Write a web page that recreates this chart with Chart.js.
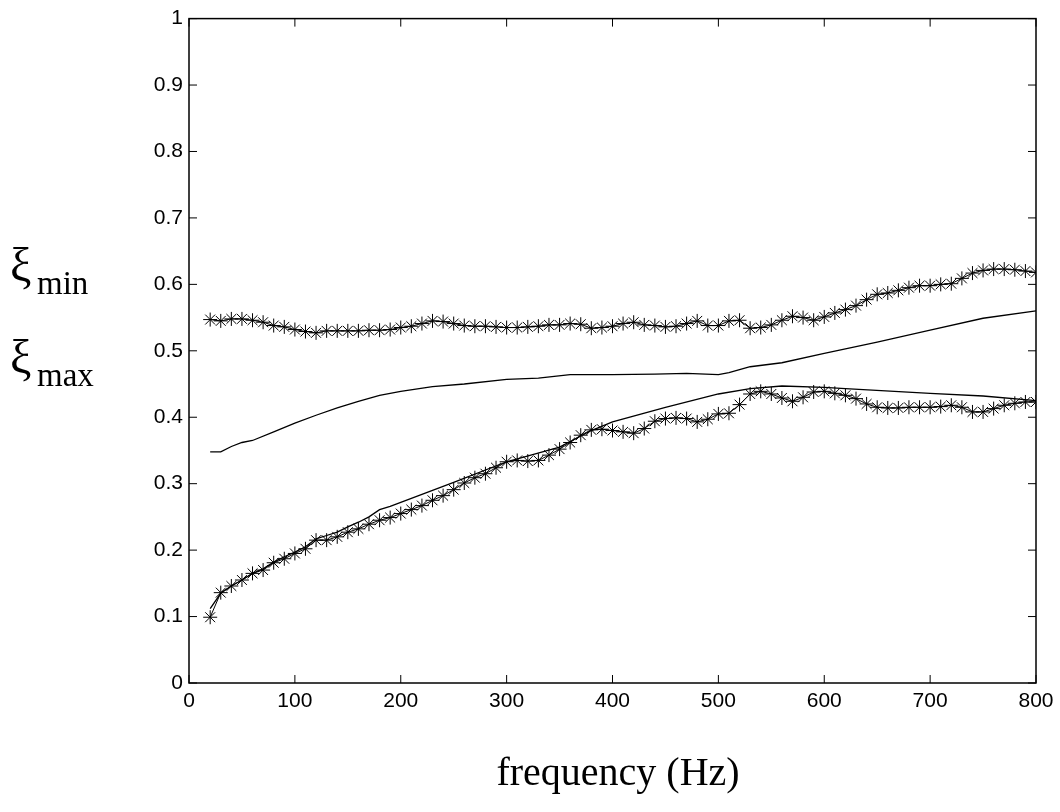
<!DOCTYPE html>
<html>
<head>
<meta charset="utf-8">
<script src="https://cdn.jsdelivr.net/npm/chart.js@4.4.1/dist/chart.umd.min.js"></script>
<style>
  html, body { margin: 0; padding: 0; background: #fff; }
  #wrap { width: 1060px; height: 812px; }
</style>
</head>
<body>
<div id="wrap"><canvas id="chart"></canvas></div>
<script>
// frequencies of the asterisk series (Hz)
const freqStars = [20, 30, 40, 50, 60, 70, 80, 90, 100, 110, 120, 130, 140, 150, 160, 170, 180, 190, 200,
  210, 220, 230, 240, 250, 260, 270, 280, 290, 300, 310, 320, 330, 340, 350, 360, 370, 380, 390, 400,
  410, 420, 430, 440, 450, 460, 470, 480, 490, 500, 510, 520, 530, 540, 550, 560, 570, 580, 590, 600,
  610, 620, 630, 640, 650, 660, 670, 680, 690, 700, 710, 720, 730, 740, 750, 760, 770, 780, 790, 800];

const upperStars = [0.547, 0.545, 0.548, 0.548, 0.546, 0.543, 0.538, 0.536, 0.532, 0.529, 0.527, 0.530, 0.530, 0.530, 0.530, 0.531, 0.531, 0.532, 0.535,
  0.537, 0.541, 0.545, 0.544, 0.541, 0.538, 0.537, 0.537, 0.536, 0.535, 0.535, 0.536, 0.537, 0.539, 0.539, 0.541, 0.540, 0.534, 0.535, 0.537,
  0.541, 0.543, 0.539, 0.538, 0.536, 0.537, 0.541, 0.545, 0.538, 0.538, 0.545, 0.546, 0.534, 0.535, 0.539, 0.546, 0.552, 0.550, 0.546, 0.551,
  0.557, 0.562, 0.568, 0.577, 0.585, 0.587, 0.591, 0.595, 0.598, 0.598, 0.600, 0.601, 0.609, 0.617, 0.621, 0.623, 0.623, 0.622, 0.620, 0.618];

const lowerStars = [0.099, 0.136, 0.146, 0.155, 0.165, 0.170, 0.181, 0.187, 0.195, 0.202, 0.215, 0.215, 0.220, 0.227, 0.232, 0.239, 0.245, 0.249, 0.255,
  0.261, 0.267, 0.275, 0.282, 0.291, 0.301, 0.309, 0.315, 0.324, 0.333, 0.335, 0.334, 0.335, 0.343, 0.352, 0.362, 0.373, 0.381, 0.382, 0.380,
  0.378, 0.376, 0.383, 0.394, 0.398, 0.399, 0.398, 0.393, 0.397, 0.405, 0.406, 0.419, 0.435, 0.439, 0.435, 0.429, 0.424, 0.430, 0.438, 0.439,
  0.436, 0.433, 0.428, 0.420, 0.415, 0.414, 0.414, 0.415, 0.415, 0.415, 0.416, 0.418, 0.415, 0.408, 0.408, 0.413, 0.418, 0.421, 0.423, 0.423];

// solid curves, read at the frequencies listed with them
const freqMid = [20, 30, 40, 50, 60, 80, 100, 120, 140, 160, 180, 200, 230, 260, 300, 330, 360, 400, 440, 470, 500, 510, 530, 560, 600, 650, 700, 750, 800];
const midLine = [0.348, 0.348, 0.356, 0.362, 0.365, 0.378, 0.391, 0.403, 0.414, 0.424, 0.433, 0.439, 0.446, 0.450, 0.457, 0.459, 0.464, 0.464, 0.465, 0.466, 0.464, 0.467, 0.476, 0.482, 0.496, 0.513, 0.531, 0.549, 0.560];

const freqLow = [20, 30, 40, 50, 60, 70, 80, 90, 100, 110, 120, 130, 140, 150, 160, 170, 180, 190, 200, 250, 300, 350, 380, 400, 450, 500, 530, 560, 600, 620, 700, 750, 800];
const lowLine = [0.112, 0.135, 0.146, 0.155, 0.165, 0.172, 0.182, 0.190, 0.197, 0.205, 0.217, 0.222, 0.227, 0.235, 0.242, 0.250, 0.261, 0.266, 0.272, 0.302, 0.333, 0.355, 0.380, 0.393, 0.415, 0.435, 0.443, 0.447, 0.445, 0.443, 0.436, 0.432, 0.425];

const xTicks = [0, 100, 200, 300, 400, 500, 600, 700, 800];
const yTicks = [0, 0.1, 0.2, 0.3, 0.4, 0.5, 0.6, 0.7, 0.8, 0.9, 1];

const pairs = (xs, ys) => xs.map((x, i) => ({ x: x, y: ys[i] }));

// box round the plot, inward ticks, and the serif axis labels
const framePlugin = {
  id: 'frame',
  afterDraw(chart) {
    const ctx = chart.ctx;
    const a = chart.chartArea;
    const xs = chart.scales.x;
    const ys = chart.scales.y;
    const tl = 8;
    ctx.save();
    ctx.strokeStyle = '#000';
    ctx.lineWidth = 1.5;
    ctx.strokeRect(a.left, a.top, a.right - a.left, a.bottom - a.top);
    ctx.lineWidth = 1;
    ctx.beginPath();
    xTicks.forEach(v => {
      const px = xs.getPixelForValue(v);
      ctx.moveTo(px, a.bottom); ctx.lineTo(px, a.bottom - tl);
      ctx.moveTo(px, a.top); ctx.lineTo(px, a.top + tl);
    });
    yTicks.forEach(v => {
      const py = ys.getPixelForValue(v);
      ctx.moveTo(a.left, py); ctx.lineTo(a.left + tl, py);
      ctx.moveTo(a.right, py); ctx.lineTo(a.right - tl, py);
    });
    ctx.stroke();

    ctx.fillStyle = '#000';
    ctx.textBaseline = 'alphabetic';
    ctx.textAlign = 'left';
    ctx.font = '48px "Liberation Serif"';
    ctx.fillText('ξ', 10, 281);
    ctx.fillText('ξ', 10, 373);
    ctx.font = '33px "Liberation Serif"';
    ctx.fillText('min', 37, 294);
    ctx.fillText('max', 37, 386);

    ctx.textAlign = 'center';
    ctx.font = '40px "Liberation Serif"';
    ctx.fillText('frequency (Hz)', 618, 785);
    ctx.restore();
  }
};

const ctx = document.getElementById('chart').getContext('2d');
new Chart(ctx, {
  type: 'scatter',
  data: {
    datasets: [
      {
        data: pairs(freqStars, upperStars),
        showLine: true,
        borderColor: '#000',
        borderWidth: 1,
        pointStyle: 'star',
        pointRadius: 7,
        pointBorderColor: '#000',
        pointBorderWidth: 1,
      },
      {
        data: pairs(freqStars, lowerStars),
        showLine: true,
        borderColor: '#000',
        borderWidth: 1,
        pointStyle: 'star',
        pointRadius: 7,
        pointBorderColor: '#000',
        pointBorderWidth: 1,
      },
      {
        data: pairs(freqMid, midLine),
        showLine: true,
        borderColor: '#000',
        borderWidth: 1.3,
        pointRadius: 0,
      },
      {
        data: pairs(freqLow, lowLine),
        showLine: true,
        borderColor: '#000',
        borderWidth: 1.3,
        pointRadius: 0,
      },
    ],
  },
  options: {
    responsive: true,
    maintainAspectRatio: false,
    animation: false,
    devicePixelRatio: 1,
    layout: { padding: { left: 0, top: 17, right: 24, bottom: 0 } },
    plugins: {
      legend: { display: false },
      tooltip: { enabled: false },
    },
    scales: {
      x: {
        type: 'linear',
        min: 0,
        max: 800,
        afterFit: s => { s.height = 129; },
        afterBuildTicks: s => { s.ticks = xTicks.map(v => ({ value: v })); },
        grid: { display: false, drawTicks: false },
        border: { display: false },
        ticks: {
          padding: 6,
          color: '#000',
          font: { family: '"Liberation Sans"', size: 21 },
          callback: v => String(v),
        },
      },
      y: {
        type: 'linear',
        min: 0,
        max: 1,
        afterFit: s => { s.width = 189; },
        afterBuildTicks: s => { s.ticks = yTicks.map(v => ({ value: v })); },
        grid: { display: false, drawTicks: false },
        border: { display: false },
        ticks: {
          padding: 6,
          color: '#000',
          font: { family: '"Liberation Sans"', size: 21 },
          callback: v => String(Math.round(v * 10) / 10),
        },
      },
    },
  },
  plugins: [framePlugin],
});
</script>
</body>
</html>
